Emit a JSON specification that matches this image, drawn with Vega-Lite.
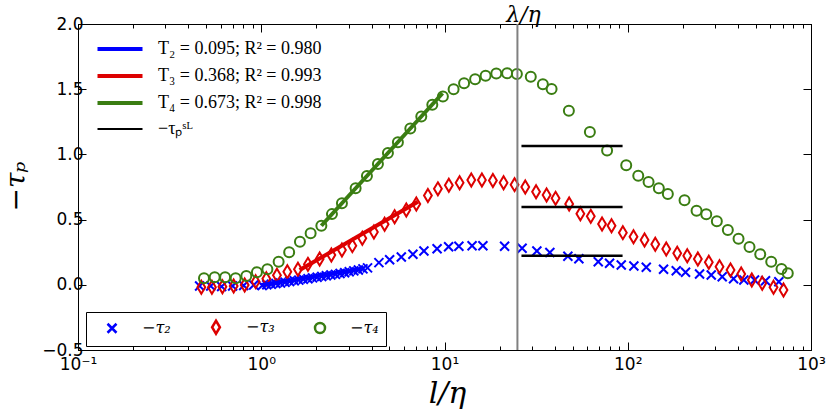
{
  "$schema": "https://vega.github.io/schema/vega-lite/v6.json",
  "width": 733,
  "height": 326,
  "autosize": {"type": "none"},
  "padding": {"left": 78, "top": 24, "right": 18, "bottom": 62},
  "background": "white",
  "datasets": {
    "points": [
      {"s": "−τ₂", "x": 0.461, "y": -0.009},
      {"s": "−τ₂", "x": 0.530, "y": -0.009},
      {"s": "−τ₂", "x": 0.608, "y": -0.013},
      {"s": "−τ₂", "x": 0.698, "y": -0.009},
      {"s": "−τ₂", "x": 0.802, "y": -0.005},
      {"s": "−τ₂", "x": 0.909, "y": -0.002},
      {"s": "−τ₂", "x": 1.012, "y": -0.005},
      {"s": "−τ₂", "x": 1.072, "y": 0.000},
      {"s": "−τ₂", "x": 1.135, "y": 0.004},
      {"s": "−τ₂", "x": 1.202, "y": 0.010},
      {"s": "−τ₂", "x": 1.274, "y": 0.014},
      {"s": "−τ₂", "x": 1.349, "y": 0.020},
      {"s": "−τ₂", "x": 1.429, "y": 0.025},
      {"s": "−τ₂", "x": 1.514, "y": 0.031},
      {"s": "−τ₂", "x": 1.603, "y": 0.036},
      {"s": "−τ₂", "x": 1.698, "y": 0.042},
      {"s": "−τ₂", "x": 1.799, "y": 0.047},
      {"s": "−τ₂", "x": 1.905, "y": 0.053},
      {"s": "−τ₂", "x": 2.018, "y": 0.058},
      {"s": "−τ₂", "x": 2.138, "y": 0.064},
      {"s": "−τ₂", "x": 2.265, "y": 0.069},
      {"s": "−τ₂", "x": 2.399, "y": 0.075},
      {"s": "−τ₂", "x": 2.541, "y": 0.080},
      {"s": "−τ₂", "x": 2.692, "y": 0.087},
      {"s": "−τ₂", "x": 2.851, "y": 0.093},
      {"s": "−τ₂", "x": 3.020, "y": 0.100},
      {"s": "−τ₂", "x": 3.199, "y": 0.107},
      {"s": "−τ₂", "x": 3.388, "y": 0.114},
      {"s": "−τ₂", "x": 3.589, "y": 0.122},
      {"s": "−τ₂", "x": 3.802, "y": 0.130},
      {"s": "−τ₂", "x": 4.386, "y": 0.170},
      {"s": "−τ₂", "x": 5.018, "y": 0.192},
      {"s": "−τ₂", "x": 5.812, "y": 0.213},
      {"s": "−τ₂", "x": 6.724, "y": 0.234},
      {"s": "−τ₂", "x": 7.722, "y": 0.259},
      {"s": "−τ₂", "x": 9.11, "y": 0.277},
      {"s": "−τ₂", "x": 10.53, "y": 0.292},
      {"s": "−τ₂", "x": 11.98, "y": 0.295},
      {"s": "−τ₂", "x": 14.14, "y": 0.300},
      {"s": "−τ₂", "x": 16.20, "y": 0.300},
      {"s": "−τ₂", "x": 21.28, "y": 0.295},
      {"s": "−τ₂", "x": 26.51, "y": 0.280},
      {"s": "−τ₂", "x": 31.92, "y": 0.259},
      {"s": "−τ₂", "x": 37.58, "y": 0.248},
      {"s": "−τ₂", "x": 47.12, "y": 0.219},
      {"s": "−τ₂", "x": 54.11, "y": 0.200},
      {"s": "−τ₂", "x": 69.03, "y": 0.177},
      {"s": "−τ₂", "x": 79.56, "y": 0.165},
      {"s": "−τ₂", "x": 92.17, "y": 0.152},
      {"s": "−τ₂", "x": 108.0, "y": 0.144},
      {"s": "−τ₂", "x": 126.2, "y": 0.134},
      {"s": "−τ₂", "x": 156.8, "y": 0.119},
      {"s": "−τ₂", "x": 183.9, "y": 0.108},
      {"s": "−τ₂", "x": 206.7, "y": 0.096},
      {"s": "−τ₂", "x": 246.5, "y": 0.083},
      {"s": "−τ₂", "x": 285.5, "y": 0.075},
      {"s": "−τ₂", "x": 327.7, "y": 0.062},
      {"s": "−τ₂", "x": 377.8, "y": 0.047},
      {"s": "−τ₂", "x": 430.0, "y": 0.037},
      {"s": "−τ₂", "x": 491.8, "y": 0.037},
      {"s": "−τ₂", "x": 564.7, "y": 0.031},
      {"s": "−τ₂", "x": 667.4, "y": 0.024},
      {"s": "−τ₃", "x": 0.471, "y": -0.019},
      {"s": "−τ₃", "x": 0.538, "y": -0.019},
      {"s": "−τ₃", "x": 0.614, "y": -0.015},
      {"s": "−τ₃", "x": 0.707, "y": -0.009},
      {"s": "−τ₃", "x": 0.812, "y": -0.002},
      {"s": "−τ₃", "x": 0.932, "y": 0.024},
      {"s": "−τ₃", "x": 1.066, "y": 0.047},
      {"s": "−τ₃", "x": 1.218, "y": 0.073},
      {"s": "−τ₃", "x": 1.388, "y": 0.100},
      {"s": "−τ₃", "x": 1.586, "y": 0.119},
      {"s": "−τ₃", "x": 1.798, "y": 0.157},
      {"s": "−τ₃", "x": 2.083, "y": 0.198},
      {"s": "−τ₃", "x": 2.413, "y": 0.229},
      {"s": "−τ₃", "x": 2.756, "y": 0.267},
      {"s": "−τ₃", "x": 3.141, "y": 0.300},
      {"s": "−τ₃", "x": 3.561, "y": 0.357},
      {"s": "−τ₃", "x": 4.119, "y": 0.405},
      {"s": "−τ₃", "x": 4.712, "y": 0.464},
      {"s": "−τ₃", "x": 5.344, "y": 0.522},
      {"s": "−τ₃", "x": 6.188, "y": 0.574},
      {"s": "−τ₃", "x": 7.018, "y": 0.620},
      {"s": "−τ₃", "x": 8.118, "y": 0.685},
      {"s": "−τ₃", "x": 9.204, "y": 0.736},
      {"s": "−τ₃", "x": 10.56, "y": 0.763},
      {"s": "−τ₃", "x": 12.09, "y": 0.783},
      {"s": "−τ₃", "x": 14.00, "y": 0.804},
      {"s": "−τ₃", "x": 16.00, "y": 0.804},
      {"s": "−τ₃", "x": 18.37, "y": 0.800},
      {"s": "−τ₃", "x": 21.01, "y": 0.783},
      {"s": "−τ₃", "x": 24.12, "y": 0.768},
      {"s": "−τ₃", "x": 27.59, "y": 0.750},
      {"s": "−τ₃", "x": 31.60, "y": 0.714},
      {"s": "−τ₃", "x": 36.06, "y": 0.689},
      {"s": "−τ₃", "x": 40.37, "y": 0.663},
      {"s": "−τ₃", "x": 47.90, "y": 0.620},
      {"s": "−τ₃", "x": 55.13, "y": 0.545},
      {"s": "−τ₃", "x": 62.83, "y": 0.525},
      {"s": "−τ₃", "x": 72.40, "y": 0.466},
      {"s": "−τ₃", "x": 81.56, "y": 0.453},
      {"s": "−τ₃", "x": 94.03, "y": 0.400},
      {"s": "−τ₃", "x": 107.5, "y": 0.369},
      {"s": "−τ₃", "x": 123.5, "y": 0.344},
      {"s": "−τ₃", "x": 141.3, "y": 0.311},
      {"s": "−τ₃", "x": 162.2, "y": 0.275},
      {"s": "−τ₃", "x": 186.2, "y": 0.242},
      {"s": "−τ₃", "x": 211.2, "y": 0.223},
      {"s": "−τ₃", "x": 241.3, "y": 0.198},
      {"s": "−τ₃", "x": 276.9, "y": 0.173},
      {"s": "−τ₃", "x": 316.8, "y": 0.139},
      {"s": "−τ₃", "x": 363.8, "y": 0.113},
      {"s": "−τ₃", "x": 416.0, "y": 0.083},
      {"s": "−τ₃", "x": 475.3, "y": 0.037},
      {"s": "−τ₃", "x": 541.8, "y": 0.012},
      {"s": "−τ₃", "x": 624.4, "y": -0.019},
      {"s": "−τ₃", "x": 707.9, "y": -0.040},
      {"s": "−τ₄", "x": 0.487, "y": 0.050},
      {"s": "−τ₄", "x": 0.557, "y": 0.058},
      {"s": "−τ₄", "x": 0.635, "y": 0.058},
      {"s": "−τ₄", "x": 0.725, "y": 0.050},
      {"s": "−τ₄", "x": 0.829, "y": 0.067},
      {"s": "−τ₄", "x": 0.947, "y": 0.096},
      {"s": "−τ₄", "x": 1.080, "y": 0.119},
      {"s": "−τ₄", "x": 1.244, "y": 0.177},
      {"s": "−τ₄", "x": 1.420, "y": 0.249},
      {"s": "−τ₄", "x": 1.626, "y": 0.331},
      {"s": "−τ₄", "x": 1.860, "y": 0.395},
      {"s": "−τ₄", "x": 2.128, "y": 0.453},
      {"s": "−τ₄", "x": 2.431, "y": 0.542},
      {"s": "−τ₄", "x": 2.756, "y": 0.626},
      {"s": "−τ₄", "x": 3.273, "y": 0.740},
      {"s": "−τ₄", "x": 3.773, "y": 0.835},
      {"s": "−τ₄", "x": 4.332, "y": 0.927},
      {"s": "−τ₄", "x": 4.912, "y": 1.011},
      {"s": "−τ₄", "x": 5.568, "y": 1.094},
      {"s": "−τ₄", "x": 6.508, "y": 1.198},
      {"s": "−τ₄", "x": 7.470, "y": 1.290},
      {"s": "−τ₄", "x": 8.579, "y": 1.380},
      {"s": "−τ₄", "x": 9.80, "y": 1.444},
      {"s": "−τ₄", "x": 11.21, "y": 1.499},
      {"s": "−τ₄", "x": 12.79, "y": 1.545},
      {"s": "−τ₄", "x": 14.69, "y": 1.577},
      {"s": "−τ₄", "x": 16.76, "y": 1.603},
      {"s": "−τ₄", "x": 19.17, "y": 1.620},
      {"s": "−τ₄", "x": 21.96, "y": 1.622},
      {"s": "−τ₄", "x": 24.83, "y": 1.617},
      {"s": "−τ₄", "x": 29.57, "y": 1.596},
      {"s": "−τ₄", "x": 34.42, "y": 1.538},
      {"s": "−τ₄", "x": 38.40, "y": 1.502},
      {"s": "−τ₄", "x": 47.72, "y": 1.334},
      {"s": "−τ₄", "x": 62.13, "y": 1.172},
      {"s": "−τ₄", "x": 77.14, "y": 1.030},
      {"s": "−τ₄", "x": 98.1, "y": 0.916},
      {"s": "−τ₄", "x": 114.1, "y": 0.837},
      {"s": "−τ₄", "x": 129.9, "y": 0.788},
      {"s": "−τ₄", "x": 147.8, "y": 0.740},
      {"s": "−τ₄", "x": 165.5, "y": 0.696},
      {"s": "−τ₄", "x": 204.1, "y": 0.648},
      {"s": "−τ₄", "x": 237.4, "y": 0.568},
      {"s": "−τ₄", "x": 268.2, "y": 0.541},
      {"s": "−τ₄", "x": 306.3, "y": 0.487},
      {"s": "−τ₄", "x": 351.7, "y": 0.420},
      {"s": "−τ₄", "x": 402.3, "y": 0.354},
      {"s": "−τ₄", "x": 461.8, "y": 0.290},
      {"s": "−τ₄", "x": 528.4, "y": 0.234},
      {"s": "−τ₄", "x": 606.6, "y": 0.177},
      {"s": "−τ₄", "x": 690.3, "y": 0.121},
      {"s": "−τ₄", "x": 747.0, "y": 0.088}
    ],
    "fits": [
      {"label": "T₂ = 0.095; R² = 0.980", "x": 1.0, "y": -0.002},
      {"label": "T₂ = 0.095; R² = 0.980", "x": 3.66, "y": 0.127},
      {"label": "T₃ = 0.368; R² = 0.993", "x": 1.62, "y": 0.113},
      {"label": "T₃ = 0.368; R² = 0.993", "x": 7.16, "y": 0.637},
      {"label": "T₄ = 0.673; R² = 0.998", "x": 2.128, "y": 0.453},
      {"label": "T₄ = 0.673; R² = 0.998", "x": 9.76, "y": 1.469}
    ],
    "sl": [
      {"label": "−τₚˢᴸ", "x": 26.3, "x2": 93.7, "y": 1.064},
      {"label": "−τₚˢᴸ", "x": 26.3, "x2": 93.7, "y": 0.597},
      {"label": "−τₚˢᴸ", "x": 26.3, "x2": 93.7, "y": 0.223}
    ],
    "scale": [
      {"x": 25, "y": 2.0, "text": "λ/η"}
    ]
  },
  "layer": [
    {
      "data": {"name": "points"},
      "mark": {"type": "point", "filled": false, "size": 100, "strokeWidth": 2, "opacity": 1},
      "encoding": {
        "x": {
          "field": "x",
          "type": "quantitative",
          "scale": {"type": "log", "domain": [0.1, 1000], "nice": false},
          "axis": {
            "orient": "bottom",
            "values": [0.1, 0.2, 0.3, 0.4, 0.5, 0.6, 0.7, 0.8, 0.9, 1, 2, 3, 4, 5, 6, 7, 8, 9, 10, 20, 30, 40, 50, 60, 70, 80, 90, 100, 200, 300, 400, 500, 600, 700, 800, 900, 1000],
            "labelExpr": "datum.value == 0.1 ? '10⁻¹' : datum.value == 1 ? '10⁰' : datum.value == 10 ? '10¹' : datum.value == 100 ? '10²' : datum.value == 1000 ? '10³' : ''",
            "tickSize": {"condition": {"test": "datum.value == 0.1 || datum.value == 1 || datum.value == 10 || datum.value == 100 || datum.value == 1000", "value": -8}, "value": -4},
            "labelPadding": 14,
            "labelFontSize": 17,
            "labelOverlap": false,
            "labelFlush": false,
            "title": "l/η",
            "titleFont": "DejaVu Serif",
            "titleFontStyle": "italic",
            "titleFontWeight": "normal",
            "titleFontSize": 30,
            "titleX": 369,
            "titleY": 52,
            "titleAlign": "center",
            "titleBaseline": "alphabetic"
          }
        },
        "y": {
          "field": "y",
          "type": "quantitative",
          "scale": {"domain": [-0.5, 2.0], "nice": false, "zero": false},
          "axis": {
            "orient": "left",
            "values": [-0.5, 0, 0.5, 1, 1.5, 2],
            "format": ".1f",
            "tickSize": -8,
            "labelPadding": 3,
            "labelFontSize": 17,
            "title": "−τₚ",
            "titleFont": "DejaVu Serif",
            "titleFontStyle": "italic",
            "titleFontWeight": "normal",
            "titleFontSize": 28,
            "titleAngle": -90,
            "titleX": -62,
            "titleY": 162,
            "titleAlign": "center",
            "titleBaseline": "middle"
          }
        },
        "stroke": {
          "field": "s",
          "type": "nominal",
          "sort": null,
          "scale": {"domain": ["−τ₂", "−τ₃", "−τ₄"], "range": ["#0000ff", "#dd0000", "#3a7d12"]},
          "legend": {
            "orient": "none",
            "legendX": 8,
            "legendY": 288,
            "direction": "horizontal",
            "columns": 3,
            "title": null,
            "strokeColor": "black",
            "fillColor": "white",
            "padding": 7,
            "symbolOffset": 11,
            "symbolSize": 100,
            "symbolStrokeWidth": 2.5,
            "symbolFillColor": "transparent",
            "labelOffset": 22,
            "columnPadding": 26,
            "labelFont": "DejaVu Serif",
            "labelFontStyle": "italic",
            "labelFontSize": 16
          }
        },
        "shape": {
          "field": "s",
          "type": "nominal",
          "sort": null,
          "scale": {
            "domain": ["−τ₂", "−τ₃", "−τ₄"],
            "range": ["M-0.9,-0.9L0.9,0.9M-0.9,0.9L0.9,-0.9", "M0,-1.3L0.78,0L0,1.3L-0.78,0Z", "circle"]
          },
          "legend": {
            "orient": "none",
            "legendX": 8,
            "legendY": 288,
            "direction": "horizontal",
            "columns": 3,
            "title": null,
            "strokeColor": "black",
            "fillColor": "white",
            "padding": 7,
            "symbolOffset": 11,
            "symbolSize": 100,
            "symbolStrokeWidth": 2.5,
            "symbolFillColor": "transparent",
            "labelOffset": 22,
            "columnPadding": 26,
            "labelFont": "DejaVu Serif",
            "labelFontStyle": "italic",
            "labelFontSize": 16
          }
        }
      }
    },
    {
      "data": {"name": "fits"},
      "mark": {"type": "line", "strokeCap": "butt"},
      "encoding": {
        "x": {"field": "x", "type": "quantitative", "axis": null},
        "y": {"field": "y", "type": "quantitative", "axis": null},
        "detail": {"field": "label"},
        "color": {
          "field": "label",
          "type": "nominal",
          "sort": null,
          "scale": {
            "domain": ["T₂ = 0.095; R² = 0.980", "T₃ = 0.368; R² = 0.993", "T₄ = 0.673; R² = 0.998", "−τₚˢᴸ"],
            "range": ["#0000ff", "#dd0000", "#3a7d12", "#000000"]
          },
          "legend": {
            "orient": "none",
            "legendX": 31,
            "legendY": 14,
            "title": null,
            "padding": 0,
            "symbolType": "M-2.5,0L2.5,0",
            "symbolSize": 324,
            "labelOffset": 27,
            "labelLimit": 400,
            "rowPadding": 7,
            "labelFont": "Liberation Serif",
            "labelFontSize": 18
          }
        },
        "strokeWidth": {
          "field": "label",
          "type": "ordinal",
          "sort": null,
          "scale": {
            "type": "ordinal",
            "domain": ["T₂ = 0.095; R² = 0.980", "T₃ = 0.368; R² = 0.993", "T₄ = 0.673; R² = 0.998", "−τₚˢᴸ"],
            "range": [4, 4, 4, 2]
          },
          "legend": {
            "orient": "none",
            "legendX": 31,
            "legendY": 14,
            "title": null,
            "padding": 0,
            "symbolType": "M-2.5,0L2.5,0",
            "symbolSize": 324,
            "labelOffset": 27,
            "labelLimit": 400,
            "rowPadding": 7,
            "labelFont": "Liberation Serif",
            "labelFontSize": 18
          }
        }
      }
    },
    {
      "data": {"name": "sl"},
      "mark": {"type": "rule", "strokeWidth": 2.5},
      "encoding": {
        "x": {
          "field": "x",
          "type": "quantitative",
          "axis": {
            "orient": "top",
            "values": [0.1, 0.2, 0.3, 0.4, 0.5, 0.6, 0.7, 0.8, 0.9, 1, 2, 3, 4, 5, 6, 7, 8, 9, 10, 20, 30, 40, 50, 60, 70, 80, 90, 100, 200, 300, 400, 500, 600, 700, 800, 900, 1000],
            "labels": false,
            "tickSize": {"condition": {"test": "datum.value == 0.1 || datum.value == 1 || datum.value == 10 || datum.value == 100 || datum.value == 1000", "value": -8}, "value": -4},
            "title": null
          }
        },
        "x2": {"field": "x2"},
        "y": {
          "field": "y",
          "type": "quantitative",
          "axis": {
            "orient": "right",
            "values": [-0.5, 0, 0.5, 1, 1.5, 2],
            "labels": false,
            "tickSize": -8,
            "title": null
          }
        },
        "color": {"field": "label", "type": "nominal", "sort": null}
      }
    },
    {
      "data": {"name": "scale"},
      "mark": {"type": "rule", "color": "#808080", "strokeWidth": 2},
      "encoding": {
        "x": {"field": "x", "type": "quantitative", "axis": null}
      }
    },
    {
      "data": {"name": "scale"},
      "mark": {"type": "text", "font": "DejaVu Serif", "fontStyle": "italic", "fontSize": 22, "align": "center", "baseline": "alphabetic", "dx": 6, "dy": -2, "clip": false},
      "encoding": {
        "x": {"field": "x", "type": "quantitative", "axis": null},
        "y": {"field": "y", "type": "quantitative", "axis": null},
        "text": {"field": "text"}
      }
    }
  ],
  "resolve": {"axis": {"x": "independent", "y": "independent"}},
  "config": {
    "view": {"stroke": "black", "strokeWidth": 1},
    "axis": {
      "grid": false,
      "domainColor": "black",
      "tickColor": "black",
      "labelColor": "black",
      "titleColor": "black",
      "labelFont": "DejaVu Sans",
      "labelFontSize": 15
    }
  }
}
